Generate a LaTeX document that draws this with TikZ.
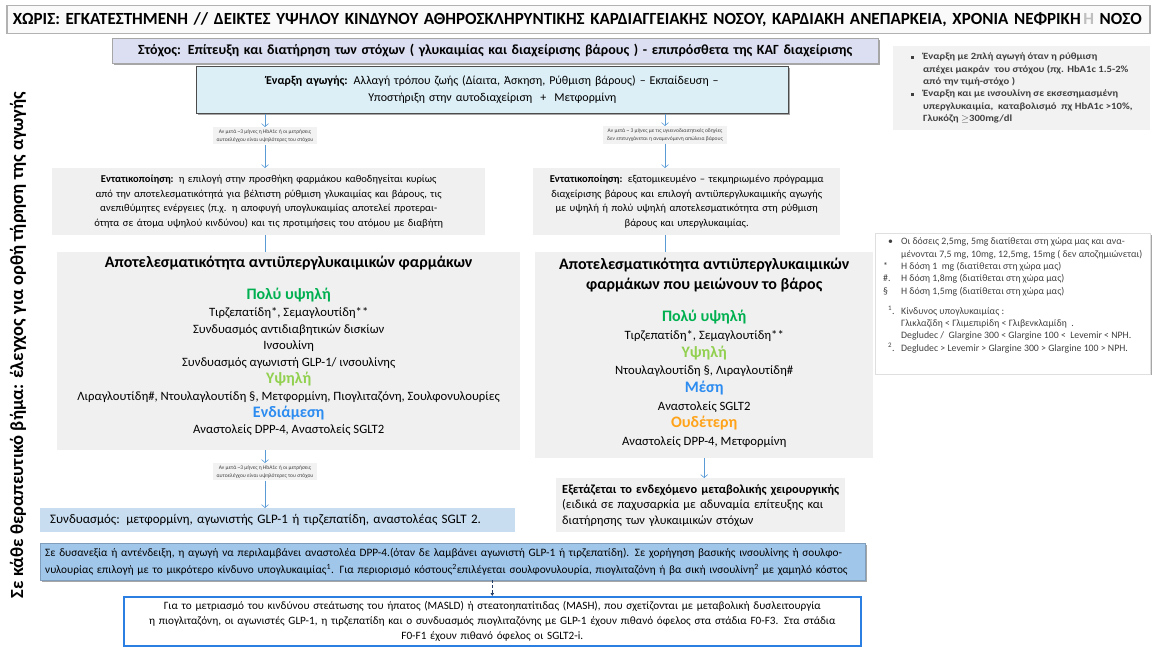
\documentclass[tikz,border=0pt]{standalone}
\usepackage{fontspec}
\setmainfont{Carlito}
\usetikzlibrary{positioning, arrows.meta, shadows}

\definecolor{goalfill}{HTML}{DCDFF1}
\definecolor{startfill}{HTML}{DCEEF6}
\definecolor{panelgrey}{HTML}{F0F0F0}
\definecolor{hintgrey}{HTML}{F2F2F2}
\definecolor{combfill}{HTML}{C9DDF1}
\definecolor{dppfill}{HTML}{A0C6EA}
\definecolor{masldblue}{HTML}{2B7FE3}
\definecolor{arrowblue}{HTML}{5B9BD5}
\definecolor{navy}{HTML}{1F3864}
\definecolor{vhigh}{HTML}{00B050}
\definecolor{high}{HTML}{92D050}
\definecolor{mid}{HTML}{2D8CF0}
\definecolor{neutral}{HTML}{FFA31A}
\definecolor{notetext}{HTML}{404040}

\newcommand\efflevel[2]{{\bfseries\fontsize{16}{18}\selectfont\color{#1}#2}}
\newcommand\efftitle[1]{{\bfseries\fontsize{16}{18}\selectfont #1}}
\newcommand\sqbul{\raisebox{1pt}{\rule{3pt}{3pt}}}

\begin{document}
\begin{tikzpicture}[x=1pt, y=-1pt,
    box/.style={anchor=north west, inner xsep=0pt, inner ysep=0pt, align=center},
    panel/.style={box, fill=panelgrey},
    hint/.style={anchor=north, fill=hintgrey, inner xsep=4pt, inner ysep=2.5pt, align=center,
      font=\fontsize{5.5}{7.5}\selectfont, text=black!75},
    arr/.style={draw=arrowblue, line width=0.6pt, -{Straight Barb[length=3pt,width=7pt]}},
    link/.style={draw=arrowblue, line width=0.6pt},
    dotarr/.style={draw=navy, densely dashed, line width=0.9pt, -{Latex[length=3pt,width=4pt]}},
    shade/.style={drop shadow={shadow xshift=1.5pt, shadow yshift=-1.5pt, fill=black, opacity=0.35}}]
\useasboundingbox (0,0) rectangle (1154,647);

\node[box, draw=gray!60, line width=1.5pt, fill=gray!4, minimum width=1143pt, minimum height=28pt,
  text width=1131pt, inner xsep=6pt, align=left, font=\bfseries\fontsize{17}{19}\selectfont] (head) at (6,5)
  {ΧΩΡΙΣ: ΕΓΚΑΤΕΣΤΗΜΕΝΗ // ΔΕΙΚΤΕΣ ΥΨΗΛΟΥ ΚΙΝΔΥΝΟΥ ΑΘΗΡΟΣΚΛΗΡΥΝΤΙΚΗΣ ΚΑΡΔΙΑΓΓΕΙΑΚΗΣ ΝΟΣΟΥ, ΚΑΡΔΙΑΚΗ ΑΝΕΠΑΡΚΕΙΑ, ΧΡΟΝΙΑ ΝΕΦΡΙΚΗ\,{\color{black!25}Η} ΝΟΣΟ};

\node[box, shade, draw=gray!70, fill=goalfill, minimum width=766pt, minimum height=25pt, text width=766pt,
  font=\bfseries\fontsize{14}{15}\selectfont] (goal) at (112,38)
  {Στόχος: Επίτευξη και διατήρηση των στόχων ( γλυκαιμίας και διαχείρισης βάρους ) - επιπρόσθετα της ΚΑΓ διαχείρισης};

\node[box, shade, draw=black!70, line width=0.8pt, fill=startfill, minimum width=592pt, minimum height=47pt,
  text width=592pt, font=\fontsize{12}{17}\selectfont] (start) at (196,66)
  {\textbf{Έναρξη αγωγής:} Αλλαγή τρόπου ζωής (Δίαιτα, Άσκηση, Ρύθμιση βάρους) – Εκπαίδευση –\\
   Υποστήριξη στην αυτοδιαχείριση \ + \ Μετφορμίνη};

\node[box, fill=hintgrey, minimum width=257pt, minimum height=84pt, inner xsep=10pt,
  font=\bfseries\fontsize{9.5}{12.4}\selectfont, text=notetext, align=left] (notes) at (893,46)
  {\scalebox{1.12}[1]{\begin{tabular}{@{}l@{\hspace{8pt}}l@{}}
   \sqbul & Έναρξη με 2πλή αγωγή όταν η ρύθμιση\\
          & απέχει μακράν \ του στόχου (πχ. HbA1c 1.5-2\%\\
          & από την τιμή-στόχο )\\
   \sqbul & Έναρξη και με ινσουλίνη σε εκσεσημασμένη\\
          & υπεργλυκαιμία, \ καταβολισμό \ πχ HbA1c >10\%,\\
          & Γλυκόζη $\geq$300mg/dl
   \end{tabular}}};

\node[hint] (lsm1) at (265,127)
  {Αν μετά \textasciitilde3 μήνες η HbA1c ή οι μετρήσεις\\ αυτοελέγχου είναι υψηλότερες του στόχου};
\node[hint] (rsm) at (665,126)
  {Αν μετά \textasciitilde\ 3 μήνες με τις υγιεινοδιαιτητικές οδηγίες\\ δεν επιτυγχάνεται η αναμενόμενη απώλεια βάρους};

\node[panel, minimum width=433pt, minimum height=67pt, text width=433pt, font=\fontsize{10.5}{14.5}\selectfont] (lint) at (52,168)
  {\textbf{Εντατικοποίηση:} η επιλογή στην προσθήκη φαρμάκου καθοδηγείται κυρίως\\
   από την αποτελεσματικότητά για βέλτιστη ρύθμιση γλυκαιμίας και βάρους, τις\\
   ανεπιθύμητες ενέργειες (π.χ. η αποφυγή υπογλυκαιμίας αποτελεί προτεραι-\\
   ότητα σε άτομα υψηλού κινδύνου) και τις προτιμήσεις του ατόμου με διαβήτη};
\node[panel, minimum width=307pt, minimum height=67pt, text width=307pt, font=\fontsize{10.5}{14.5}\selectfont] (rint) at (533,168)
  {\textbf{Εντατικοποίηση:} εξατομικευμένο – τεκμηριωμένο πρόγραμμα\\
   διαχείρισης βάρους και επιλογή αντιϋπεργλυκαιμικής αγωγής\\
   με υψηλή ή πολύ υψηλή αποτελεσματικότητα στη ρύθμιση\\
   βάρους και υπεργλυκαιμίας.};

\node[box, shade, draw=gray!25, fill=white, minimum width=275pt, inner xsep=4pt, inner ysep=3pt,
  font=\fontsize{9.8}{12.3}\selectfont, text=notetext, align=left] (foot) at (875,233)
  {\begin{tabular}{@{}p{18pt}@{}l@{}}
   \hspace{5pt}• & Οι δόσεις 2,5mg, 5mg διατίθεται στη χώρα μας και ανα-\\
    & μένονται 7,5 mg, 10mg, 12,5mg, 15mg ( δεν αποζημιώνεται)\\
   ** & Η δόση 1 \ mg (διατίθεται στη χώρα μας)\\
   \#. & Η δόση 1,8mg (διατίθεται στη χώρα μας)\\
   § & Η δόση 1,5mg (διατίθεται στη χώρα μας)\\[8pt]
   \hspace{5pt}\textsuperscript{1}. & Κίνδυνος υπογλυκαιμίας :\\
    & Γλικλαζίδη < Γλιμεπιρίδη < Γλιβενκλαμίδη \ .\\
    & Degludec / \ Glargine 300 < Glargine 100 < \ Levemir < NPH.\\
   \hspace{5pt}\textsuperscript{2}. & Degludec > Levemir > Glargine 300 > Glargine 100 > NPH.\\[16pt]
   \end{tabular}};

\node[panel, minimum width=463pt, minimum height=198pt] (leff) at (57,252) {};
\node[below=4pt of leff.north, inner sep=0pt, align=center, font=\fontsize{12.7}{16.8}\selectfont] (lefftext)
  {\efftitle{Αποτελεσματικότητα αντιϋπεργλυκαιμικών φαρμάκων}\\[15pt]
   \efflevel{vhigh}{Πολύ υψηλή}\\
   Τιρζεπατίδη*, Σεμαγλουτίδη**\\
   Συνδυασμός αντιδιαβητικών δισκίων\\
   Ινσουλίνη\\
   Συνδυασμός αγωνιστή GLP-1/ ινσουλίνης\\
   \efflevel{high}{Υψηλή}\\
   Λιραγλουτίδη\#, Ντουλαγλουτίδη §, Μετφορμίνη, Πιογλιταζόνη, Σουλφονυλουρίες\\
   \efflevel{mid}{Ενδιάμεση}\\
   Αναστολείς DPP-4, Αναστολείς SGLT2};

\node[panel, minimum width=338pt, minimum height=206pt] (reff) at (535,252) {};
\node[below=6pt of reff.north, inner sep=0pt, align=center, font=\fontsize{12.7}{17.7}\selectfont] (refftext)
  {\efftitle{Αποτελεσματικότητα αντιϋπεργλυκαιμικών}\\[2.3pt]
   \efftitle{φαρμάκων που μειώνουν το βάρος}\\[14.3pt]
   \efflevel{vhigh}{Πολύ υψηλή}\\
   Τιρζεπατίδη*, Σεμαγλουτίδη**\\
   \efflevel{high}{Υψηλή}\\
   Ντουλαγλουτίδη §, Λιραγλουτίδη\#\\
   \efflevel{mid}{Μέση}\\
   Αναστολείς SGLT2\\
   \efflevel{neutral}{Ουδέτερη}\\
   Αναστολείς DPP-4, Μετφορμίνη};

\node[hint] (lsm2) at (265,463)
  {Αν μετά \textasciitilde3 μήνες η HbA1c ή οι μετρήσεις\\ αυτοελέγχου είναι υψηλότερες του στόχου};

\node[box, fill=combfill, minimum width=475pt, minimum height=24pt, inner xsep=10pt, text width=455pt, align=left,
  font=\fontsize{13}{15}\selectfont] (comb) at (40,508)
  {Συνδυασμός: μετφορμίνη, αγωνιστής GLP-1 ή τιρζεπατίδη, αναστολέας SGLT 2.};

\node[panel, minimum width=289pt, minimum height=54pt, inner xsep=6pt, text width=277pt, align=left,
  font=\fontsize{12.4}{15.5}\selectfont] (surg) at (556,478)
  {\textbf{Εξετάζεται το ενδεχόμενο μεταβολικής χειρουργικής}\\
   (ειδικά σε παχυσαρκία με αδυναμία επίτευξης και\\
   διατήρησης των γλυκαιμικών στόχων};

\node[box, shade, draw=dppfill!80!black, fill=dppfill, minimum width=825pt, minimum height=37pt, inner xsep=5pt,
  text width=815pt, align=left, font=\fontsize{11.3}{17}\selectfont] (dpp) at (40,543)
  {Σε δυσανεξία ή αντένδειξη, η αγωγή να περιλαμβάνει αναστολέα DPP-4.(όταν δε λαμβάνει αγωνιστή GLP-1 ή τιρζεπατίδη). Σε χορήγηση βασικής ινσουλίνης ή σουλφο-\\
   νυλουρίας επιλογή με το μικρότερο κίνδυνο υπογλυκαιμίας\textsuperscript{1}. Για περιορισμό κόστους\textsuperscript{2}επιλέγεται σουλφονυλουρία, πιογλιταζόνη ή βα σική ινσουλίνη\textsuperscript{2} με χαμηλό κόστος};

\node[box, draw=masldblue, line width=1.6pt, fill=white, minimum width=737pt, minimum height=49pt, text width=737pt,
  font=\fontsize{11.2}{15}\selectfont] (masld) at (123,596)
  {Για το μετριασμό του κινδύνου στεάτωσης του ήπατος (MASLD) ή στεατοηπατίτιδας (MASH), που σχετίζονται με μεταβολική δυσλειτουργία\\
   η πιογλιταζόνη, οι αγωνιστές GLP-1, η τιρζεπατίδη και ο συνδυασμός πιογλιταζόνης με GLP-1 έχουν πιθανό όφελος στα στάδια F0-F3. Στα στάδια\\
   F0-F1 έχουν πιθανό όφελος οι SGLT2-i.};

\node[rotate=90, font=\bfseries\fontsize{18.5}{20}\selectfont] (side) at (18,345)
  {Σε κάθε θεραπευτικό βήμα: έλεγχος για ορθή τήρηση της αγωγής};

\draw[arr] (start.south -| lsm1.north) -- (lsm1.north);
\draw[arr] (start.south -| rsm.north) -- (rsm.north);
\draw[arr] (lsm1.south) -- (lsm1.south |- lint.north);
\draw[arr] (rsm.south) -- (rsm.south |- rint.north);
\draw[link] (lint.south -| lsm1.south) -- (leff.north -| lsm1.south);
\draw[link] (rint.south -| rsm.south) -- (reff.north -| rsm.south);
\draw[arr] (leff.south -| lsm2.north) -- (lsm2.north);
\draw[arr] (lsm2.south) -- (lsm2.south |- comb.north);
\draw[arr] (reff.south) -- (reff.south |- surg.north);
\draw[dotarr] (masld.north |- dpp.south) -- (masld.north);
\end{tikzpicture}
\end{document}
